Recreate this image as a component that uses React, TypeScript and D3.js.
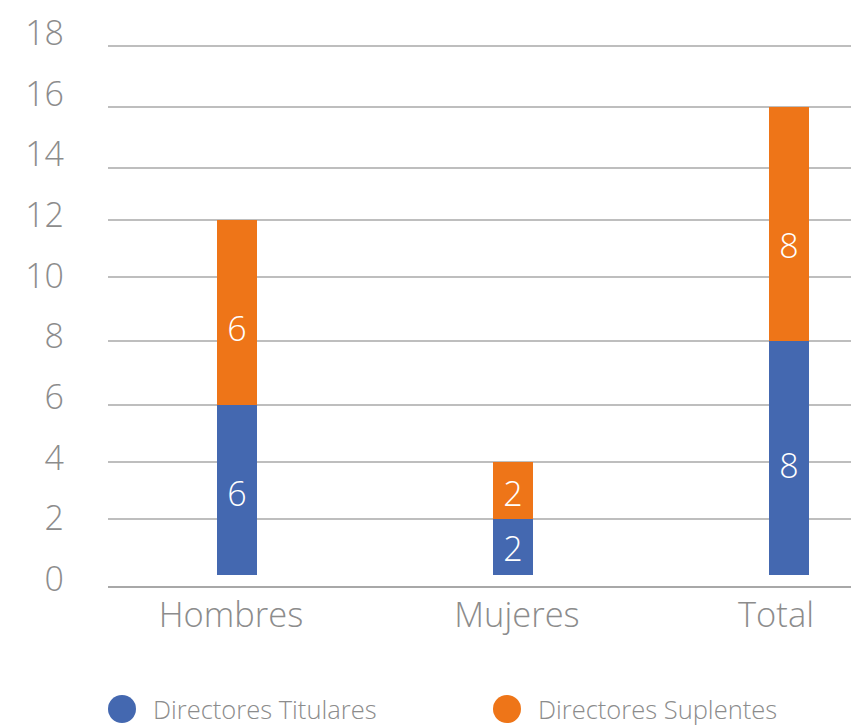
import React from "react";
import * as d3 from "d3";

const categories = ["Hombres", "Mujeres", "Total"];
const titulares = [6, 2, 8];
const suplentes = [6, 2, 8];
const seriesNames = ["Directores Titulares", "Directores Suplentes"];
const yTicks = [0, 2, 4, 6, 8, 10, 12, 14, 16, 18];

const W = 851;
const H = 727;
const BLUE = "#4468b0";
const ORANGE = "#ee7518";
const GRAY = "#8c8c8c";
const GRID = "#a8a8a8";
const FONT = "'Open Sans', 'Noto Sans', sans-serif";

export default function App() {
  // value scale (piecewise, matched to the gridlines of the reference)
  const y = d3
    .scaleLinear()
    .domain(yTicks)
    .range([575, 519, 462, 405, 341, 277, 220, 168, 107, 46]);
  // tick label scale
  const yLab = d3.scaleLinear().domain([0, 18]).range([578, 32]);
  // data label scale
  const yVal = d3.scaleLinear().domain([0, 18]).range([575, 80]);
  const x = d3.scaleBand().domain(categories).range([99, 927]);
  const xLab = d3.scaleOrdinal<string, number>().domain(categories).range([231, 517, 776]);
  const barW = 40;
  const stack = d3
    .stack<any>()
    .keys(["t", "s"])(categories.map((c, i) => ({ c, t: titulares[i], s: suplentes[i] })));
  const colors = [BLUE, ORANGE];

  return (
    <svg
      width={W}
      height={H}
      style={{ position: "absolute", left: 0, top: 0, background: "#fff" }}
      fontFamily={FONT}
    >
      {yTicks.map((t) => (
        <g key={t}>
          <line
            x1={108}
            x2={851}
            y1={t === 0 ? y(0) + 12 : y(t)}
            y2={t === 0 ? y(0) + 12 : y(t)}
            stroke={GRID}
            strokeWidth={t === 0 ? 2 : 1.5}
          />
          <text
            x={64}
            y={yLab(t)}
            textAnchor="end"
            dominantBaseline="central"
            fontSize={34}
            fontWeight={300}
            fill={GRAY}
          >
            {t}
          </text>
        </g>
      ))}
      {stack.map((layer, li) =>
        layer.map((d, i) => {
          const cx = x(categories[i])! + x.bandwidth() / 2;
          const y0 = y(d[0]);
          const y1 = y(d[1]);
          return (
            <g key={li + "-" + i}>
              <rect x={cx - barW / 2} y={y1} width={barW} height={y0 - y1} fill={colors[li]} />
              <text
                x={cx}
                y={yVal((d[0] + d[1]) / 2)}
                textAnchor="middle"
                dominantBaseline="central"
                fontSize={34}
                fontWeight={300}
                fill="#fff"
              >
                {d[1] - d[0]}
              </text>
            </g>
          );
        })
      )}
      {categories.map((c) => (
        <text
          key={c}
          x={xLab(c)}
          y={627}
          textAnchor="middle"
          fontSize={34.5}
          fontWeight={300}
          fill={GRAY}
        >
          {c}
        </text>
      ))}
      {seriesNames.map((n, i) => (
        <g key={n} transform={`translate(${122 + i * 385},709)`}>
          <circle r={14} fill={colors[i]} />
          <text x={31} y={0} dominantBaseline="central" fontSize={25.5} fontWeight={300} fill={GRAY}>
            {n}
          </text>
        </g>
      ))}
    </svg>
  );
}
